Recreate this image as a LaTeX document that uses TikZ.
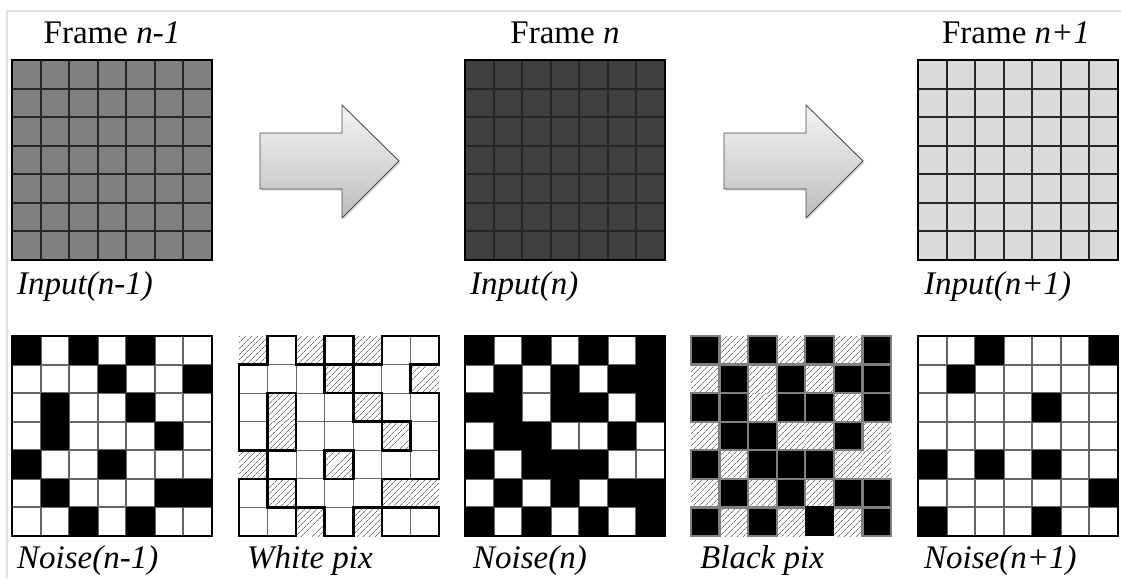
\documentclass[tikz,border=0pt]{standalone}
\usepackage{fontspec}
\setmainfont{Liberation Serif}
\usetikzlibrary{patterns.meta,shadows}

% cell size of a 7x7 grid that is 200 units wide
\def\cs{28.5714}

% store a 7x7 matrix of 0/1 values under a name
\newcommand\loadgrid[2]{%
  \foreach \rw [count=\r] in {#2}{%
    \foreach \v [count=\c] in \rw {%
      \expandafter\xdef\csname #1@\r @\c\endcsname{\v}}}}
% value of a cell; cells outside the grid count as 1
\newcommand\cellv[3]{\ifcsname #1@#2@#3\endcsname\csname #1@#2@#3\endcsname\else 1\fi}

\loadgrid{NA}{{1,0,1,0,1,0,0},{0,0,0,1,0,0,1},{0,1,0,0,1,0,0},{0,1,0,0,0,1,0},{1,0,0,1,0,0,0},{0,1,0,0,0,1,1},{0,0,1,0,1,0,0}}
\loadgrid{NB}{{1,0,1,0,1,0,1},{0,1,0,1,0,1,1},{1,1,0,1,1,0,1},{0,1,1,0,0,1,0},{1,0,1,1,1,0,0},{0,1,0,1,0,1,1},{1,0,1,0,1,0,1}}
\loadgrid{NC}{{0,0,1,0,0,0,1},{0,1,0,0,0,0,0},{0,0,0,0,1,0,0},{0,0,0,0,0,0,0},{1,0,1,0,1,0,0},{0,0,0,0,0,0,1},{1,0,0,0,1,0,0}}

\tikzset{
  title/.style={anchor=base, font=\fontsize{33}{38}\selectfont, inner sep=0pt},
  label/.style={anchor=base west, font=\fontsize{33}{38}\selectfont\itshape, inner sep=0pt},
  gridouter/.style={draw=black, line width=2.4pt},
  topinner/.style={draw=black!85, line width=2pt},
  thingray/.style={draw=black!60, line width=1.2pt},
  hatch/.style={pattern={Lines[angle=45,distance=4pt,line width=0.7pt]}, pattern color=black!55},
  whiteedge/.style={draw=black, line width=2.6pt, line cap=rect},
  blackedge/.style={draw=black!50, line width=2.2pt},
  bigarrow/.style={draw=black!70, line width=0.9pt, top color=black!4, bottom color=black!26,
    drop shadow={opacity=0.3, shadow xshift=1.5pt, shadow yshift=-1.5pt}},
  pageframe/.style={draw=black!12, line width=1.4pt}
}

% plain input frame: one fill colour with a dark lattice
\newcommand\framegrid[3]{%
  \begin{scope}[shift={(#1,#2)}]
    \fill[#3] (0,0) rectangle (200,200);
    \foreach \k in {1,...,6}{
      \pgfmathtruncatemacro\p{round(\k*\cs)}
      \draw[topinner] (\p,0) -- (\p,200);
      \draw[topinner] (0,\p) -- (200,\p);
    }
    \draw[gridouter] (0,0) rectangle (200,200);
  \end{scope}}

% binary noise mask: black cells on white
\newcommand\noisegrid[3]{%
  \begin{scope}[shift={(#2,#3)}]
    \fill[white] (0,0) rectangle (200,200);
    \foreach \k in {1,...,6}{
      \pgfmathtruncatemacro\p{round(\k*\cs)}
      \draw[thingray] (\p,0) -- (\p,200);
      \draw[thingray] (0,\p) -- (200,\p);
    }
    \foreach \r in {1,...,7}{\foreach \c in {1,...,7}{
      \ifnum\cellv{#1}{\r}{\c}=1
        \fill[black] ({round((\c-1)*\cs)},{round((\r-1)*\cs)})
          rectangle ({round(\c*\cs)},{round(\r*\cs)});
      \fi}}
    \draw[gridouter] (0,0) rectangle (200,200);
  \end{scope}}

% white pixels of a mask outlined, black pixels hatched
\newcommand\whitegrid[3]{%
  \begin{scope}[shift={(#2,#3)}]
    \foreach \r in {1,...,7}{\foreach \c in {1,...,7}{
      \ifnum\cellv{#1}{\r}{\c}=1
        \fill[hatch] ({(\c-1)*\cs},{(\r-1)*\cs}) rectangle ++(\cs,\cs);
      \fi}}
    % thin lines between neighbouring white cells
    \foreach \r in {1,...,7}{\foreach \c in {1,...,7}{
      \pgfmathtruncatemacro\cn{\c+1}
      \pgfmathtruncatemacro\rn{\r+1}
      \ifnum\cellv{#1}{\r}{\c}=0
        \ifnum\cellv{#1}{\r}{\cn}=0
          \draw[thingray] ({\c*\cs},{(\r-1)*\cs}) -- ++(0,\cs);
        \fi
        \ifnum\cellv{#1}{\rn}{\c}=0
          \draw[thingray] ({(\c-1)*\cs},{\r*\cs}) -- ++(\cs,0);
        \fi
      \fi}}
    % thick outline round the white regions
    \foreach \r in {1,...,7}{\foreach \c in {1,...,7}{
      \pgfmathtruncatemacro\cn{\c+1}
      \pgfmathtruncatemacro\cp{\c-1}
      \pgfmathtruncatemacro\rn{\r+1}
      \pgfmathtruncatemacro\rp{\r-1}
      \ifnum\cellv{#1}{\r}{\c}=0
        \ifnum\cellv{#1}{\r}{\cn}=0 \else
          \draw[whiteedge] ({\c*\cs},{(\r-1)*\cs}) -- ++(0,\cs); \fi
        \ifnum\cellv{#1}{\r}{\cp}=0 \else
          \draw[whiteedge] ({(\c-1)*\cs},{(\r-1)*\cs}) -- ++(0,\cs); \fi
        \ifnum\cellv{#1}{\rn}{\c}=0 \else
          \draw[whiteedge] ({(\c-1)*\cs},{\r*\cs}) -- ++(\cs,0); \fi
        \ifnum\cellv{#1}{\rp}{\c}=0 \else
          \draw[whiteedge] ({(\c-1)*\cs},{(\r-1)*\cs}) -- ++(\cs,0); \fi
      \fi}}
  \end{scope}}

% black pixels of a mask kept, white pixels hatched
\newcommand\blackgrid[3]{%
  \begin{scope}[shift={(#2,#3)}]
    \foreach \r in {1,...,7}{\foreach \c in {1,...,7}{
      \ifnum\cellv{#1}{\r}{\c}=0
        \fill[hatch] ({(\c-1)*\cs},{(\r-1)*\cs}) rectangle ++(\cs,\cs);
      \fi}}
    \foreach \r in {1,...,7}{\foreach \c in {1,...,7}{
      \ifnum\cellv{#1}{\r}{\c}=1
        \ifnum\r\c=75
          \fill[black] ({(\c-1)*\cs},{(\r-1)*\cs-1.5}) rectangle ++(\cs,{\cs+1.5});
        \else
          \filldraw[black, blackedge] ({(\c-1)*\cs},{(\r-1)*\cs}) rectangle ++(\cs,\cs);
        \fi
      \fi}}
  \end{scope}}

% block arrow between two frames
\newcommand\blockarrow[1]{%
  \path[bigarrow, shift={(#1,0)}] (0,133) -- (82,133) -- (82,105) -- (139,161)
    -- (82,218) -- (82,189) -- (0,189) -- cycle;}

\begin{document}
\begin{tikzpicture}[x=1pt, y=-1pt]
  \useasboundingbox (0,0) rectangle (1121,578);
  \fill[white] (0,0) rectangle (1121,578);
  \draw[pageframe] (1121,11) -- (7,11) -- (7,578);

  % input frames
  \node[title] (t1) at (112,44) {Frame \textit{n-1}};
  \node[title] (t2) at (565,44) {Frame \textit{n}};
  \node[title] (t3) at (1016,44) {Frame \textit{n+1}};
  \framegrid{12}{60}{black!50}
  \framegrid{465}{60}{black!75}
  \framegrid{918}{60}{black!15}
  \blockarrow{260}
  \blockarrow{724}
  \node[label] (i1) at (17,294) {Input(n-1)};
  \node[label] (i2) at (470,294) {Input(n)};
  \node[label] (i3) at (924,294) {Input(n+1)};

  % noise masks
  \noisegrid{NA}{12}{336}
  \whitegrid{NA}{239}{336}
  \noisegrid{NB}{465}{336}
  \blackgrid{NB}{691}{336}
  \noisegrid{NC}{918}{336}
  \node[label] (n1) at (17,568) {Noise(n-1)};
  \node[label] (w1) at (247,568) {White pix};
  \node[label] (n2) at (473,568) {Noise(n)};
  \node[label] (b1) at (700,568) {Black pix};
  \node[label] (n3) at (924,568) {Noise(n+1)};
\end{tikzpicture}
\end{document}
